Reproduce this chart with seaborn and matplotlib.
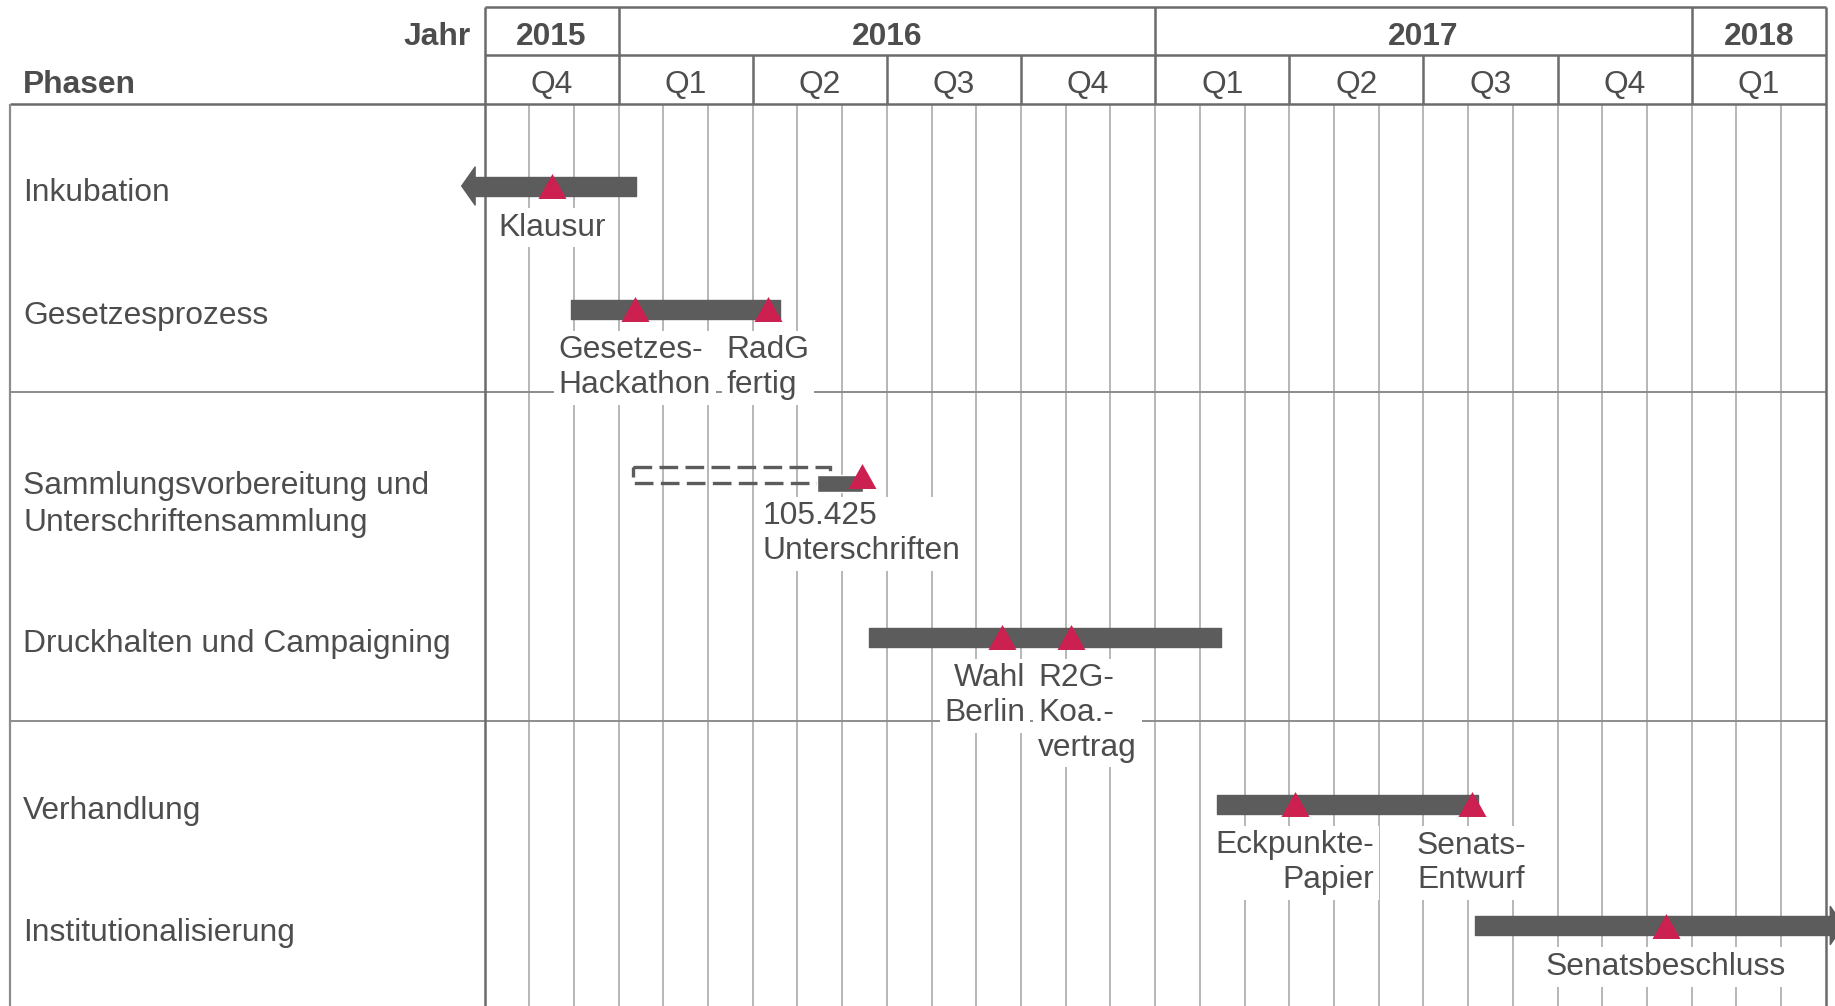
import numpy as np
import pandas as pd
import matplotlib
matplotlib.use("Agg")
import matplotlib.pyplot as plt
import seaborn as sns
from matplotlib.patches import Polygon, Rectangle
from matplotlib.path import Path

# ------------------------------------------------------------------ data
years = ["2015", "2016", "2017", "2018"]
year_months = [3, 12, 12, 3]                       # months of each year shown
quarters = ["Q4", "Q1", "Q2", "Q3", "Q4", "Q1", "Q2", "Q3", "Q4", "Q1"]

phases = ["Inkubation",
          "Gesetzesprozess",
          "Sammlungsvorbereitung und\nUnterschriftensammlung",
          "Druckhalten und Campaigning",
          "Verhandlung",
          "Institutionalisierung"]
phase_group = [0, 0, 1, 1, 2, 2]
# months since 1 Oct 2015
phase_start = [-0.51, 1.93, 3.33, 8.59, 16.39, 22.15]
phase_end = [3.39, 6.61, 7.73, 16.48, 22.22, 30.40]
phase_planned = [False, False, True, False, False, False]   # dashed outline
phase_arrow = ["left", None, None, None, None, "right"]
collect_start = 7.44          # solid part: signature collection
collect_end = 8.47

ms_phase = [0, 1, 1, 2, 3, 3, 4, 4, 5]
ms_month = [1.52, 3.36, 6.34, 8.44, 11.57, 13.12, 18.13, 22.08, 26.42]
ms_label = ["Klausur", "Gesetzes-\nHackathon", "RadG\nfertig",
            "105.425\nUnterschriften", "Wahl\nBerlin", "R2G-\nKoa.-\nvertrag",
            "Eckpunkte-\nPapier", "Senats-\nEntwurf", "Senatsbeschluss"]

# ------------------------------------------------------------------ style / layout
ms_align = ["center", "left", "left", "left", "right", "left", "right", "left", "center"]
ms_nudge = [0, 0, 0, 0, -0.38, 0.37, 0, 0, 0]

W, H = 1835, 1006
X0, MW = 484.5, 44.71            # pixel of timeline start, pixels per month
def px2m(px):
    return (px - X0) / MW

row_y = [186, 309, 475, 637, 804, 925.5]   # bar centres (pixels from top)
BAR_H = 19
HEAD_LEN, HEAD_H = 0.30, 38
Y_TOP, Y_MID, Y_BODY = 7.3, 55, 104
LEFT_PX = 9.8
LINE_PITCH = 37

TXT = "#4d4d4d"
BAR = "#5b5c5b"
RED = "#cc2150"
DARK = "#6b6b6b"
GRID = "#a3a3a3"
SEP = "#8c8c8c"
FS = 22.9

sns.set_theme(style="white")
plt.rcParams["font.family"] = ["Liberation Sans", "DejaVu Sans"]

fig = plt.figure(figsize=(W / 100, H / 100), dpi=100)
ax = fig.add_axes([0, 0, 1, 1])

n_months = sum(year_months)

# ---------------- grid
ax.vlines(np.arange(1, n_months), Y_BODY, H, color=GRID, lw=1.1, zorder=1)
ax.vlines([0, n_months], Y_TOP, H, color=DARK, lw=1.8, zorder=2)
ybounds = np.cumsum(year_months)[:-1]
ax.vlines(ybounds, Y_TOP, Y_MID, color=DARK, lw=1.8, zorder=2)
ax.vlines(np.arange(3, n_months, 3), Y_MID, Y_BODY, color=DARK, lw=1.8, zorder=2)
ax.hlines([Y_TOP, Y_MID], 0, n_months, color=DARK, lw=1.8, zorder=2)
ax.hlines(Y_BODY, px2m(LEFT_PX), n_months, color=DARK, lw=1.8, zorder=2)
ax.vlines(px2m(LEFT_PX), Y_BODY, H, color=SEP, lw=1.6, zorder=2)
seps = [(row_y[i] + row_y[i + 1]) / 2 for i in range(len(phases) - 1)
        if phase_group[i] != phase_group[i + 1]]
ax.hlines(seps, px2m(LEFT_PX), n_months, color=SEP, lw=1.4, zorder=1)

# ---------------- header
edges = np.concatenate([[0], np.cumsum(year_months)])
for i, yr in enumerate(years):
    ax.text((edges[i] + edges[i + 1]) / 2, 45, yr, ha="center", va="baseline",
            fontsize=FS, fontweight="bold", color=TXT)
for i, q in enumerate(quarters):
    ax.text(3 * i + 1.5, 92.5, q, ha="center", va="baseline", fontsize=FS, color=TXT)
ax.text(px2m(471), 45, "Jahr", ha="right", va="baseline", fontsize=FS,
        fontweight="bold", color=TXT)
ax.text(px2m(23), 93, "Phasen", ha="left", va="baseline", fontsize=FS,
        fontweight="bold", color=TXT)

# ---------------- phase labels (first line aligned with the bar)
for name, y in zip(phases, row_y):
    lines = name.split("\n")
    base = y + 15 + (4 if len(lines) > 1 else 0)
    for k, line in enumerate(lines):
        ax.text(px2m(23), base + k * LINE_PITCH, line, ha="left", va="baseline",
                fontsize=FS, color=TXT)

# ---------------- bars
for s, e, y, planned, arrow in zip(phase_start, phase_end, row_y, phase_planned, phase_arrow):
    if planned:
        ax.add_patch(Rectangle((s, y - 8), e - s, 16, fill=False, ec=BAR, lw=2.4,
                               ls=(0, (5.6, 2.2)), zorder=3))
        ax.barh(y + 8.6, collect_end - collect_start, left=collect_start,
                height=16.7, color=BAR, zorder=3)
        continue
    left, right = s, e
    if arrow == "left":
        left = s + HEAD_LEN
        ax.add_patch(Polygon([(s, y), (left, y - HEAD_H / 2), (left, y + HEAD_H / 2)],
                             closed=True, fc=BAR, ec=BAR, lw=1, joinstyle="round", zorder=3))
    if arrow == "right":
        right = e - HEAD_LEN
        ax.add_patch(Polygon([(e, y), (right, y - HEAD_H / 2), (right, y + HEAD_H / 2)],
                             closed=True, fc=BAR, ec=BAR, lw=1, joinstyle="round", zorder=3))
    ax.barh(y, right - left, left=left, height=BAR_H, color=BAR, ec=BAR, lw=1,
            joinstyle="round", zorder=3)

# ---------------- milestones
tri = Path([(0, 0.89), (-1, -0.89), (1, -0.89), (0, 0.89)],
           [Path.MOVETO, Path.LINETO, Path.LINETO, Path.CLOSEPOLY])
ms_df = pd.DataFrame({"month": ms_month,
                      "y": [row_y[p] + (0.5 if phase_planned[p] else 0) for p in ms_phase]})
sns.scatterplot(data=ms_df, x="month", y="y", marker=tri, s=408, color=RED,
                linewidth=0, ax=ax, zorder=4, legend=False)

for m, p, lab, al, nd in zip(ms_month, ms_phase, ms_label, ms_align, ms_nudge):
    ax.text(m + nd, row_y[p] + 26.5, lab, ha="center", va="top", multialignment=al,
            fontsize=FS, color=TXT, linespacing=1.2, zorder=5,
            bbox=dict(boxstyle="square,pad=0.15", fc="white", ec="none"))

ax.set_xlim(px2m(0), px2m(W))
ax.set_ylim(H, 0)
ax.axis("off")

fig.savefig("out.png", dpi=100)
